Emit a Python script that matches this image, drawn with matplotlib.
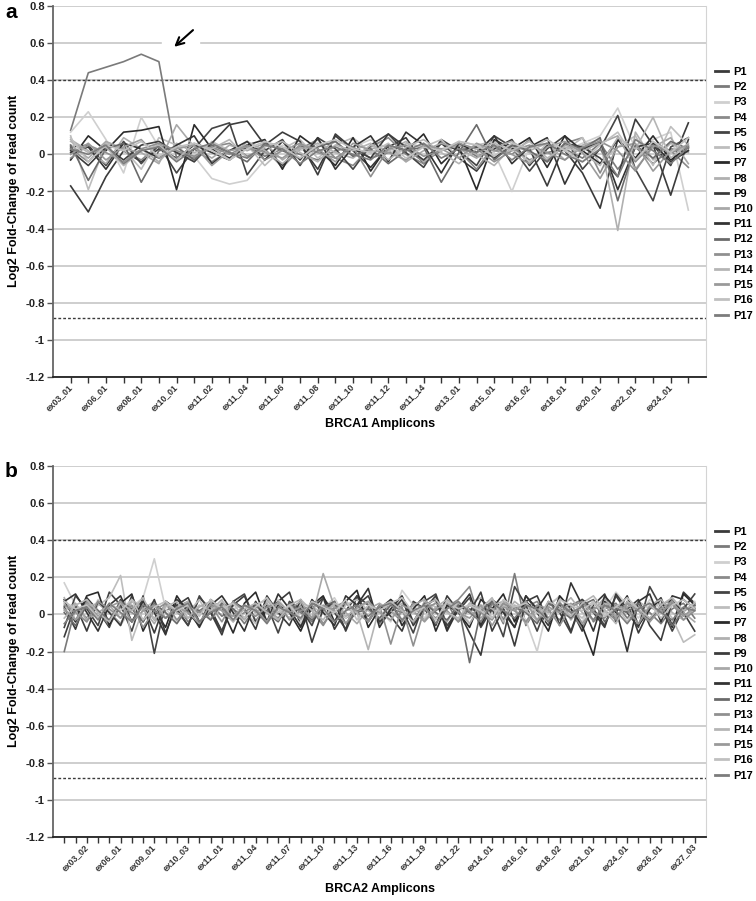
import matplotlib
matplotlib.use('Agg')
import matplotlib.pyplot as plt
from matplotlib.lines import Line2D
from matplotlib.patches import Rectangle

plt.rcParams['font.family'] = ['Liberation Sans', 'DejaVu Sans']
plt.rcParams['font.weight'] = 'bold'

# ---- data ----
patients = ['P%d' % i for i in range(1, 18)]
line_colors = ['#3a3a3a', '#7a7a7a', '#cfcfcf', '#8a8a8a', '#444444', '#bdbdbd',
               '#2a2a2a', '#b0b0b0', '#3c3c3c', '#a8a8a8', '#333333', '#6a6a6a',
               '#909090', '#b5b5b5', '#9a9a9a', '#c0c0c0', '#7c7c7c']

brca1_ticklabels = ['ex03_01', 'ex06_01', 'ex08_01', 'ex10_01', 'ex11_02', 'ex11_04',
                    'ex11_06', 'ex11_08', 'ex11_10', 'ex11_12', 'ex11_14', 'ex13_01',
                    'ex15_01', 'ex16_02', 'ex18_01', 'ex20_01', 'ex22_01', 'ex24_01']
brca2_ticklabels = ['ex03_02', 'ex06_01', 'ex09_01', 'ex10_03', 'ex11_01', 'ex11_04',
                    'ex11_07', 'ex11_10', 'ex11_13', 'ex11_16', 'ex11_19', 'ex11_22',
                    'ex14_01', 'ex16_01', 'ex18_02', 'ex21_01', 'ex24_01', 'ex26_01',
                    'ex27_03']

# BRCA1, log2 fold change per amplicon (36 amplicons)
a_p1 = [-0.17,-0.31,-0.12,0.02,-0.04,0.03,-0.02,0.05,0.01,-0.03,0.04,0.02,
        -0.06,0.05,-0.08,0.10,0.02,-0.07,0.04,0.09,-0.05,0.06,-0.02,-0.09,
        0.03,0.08,-0.06,0.05,0.02,-0.10,-0.29,0.08,-0.03,0.05,-0.06,0.17]
a_p2 = [0.13,0.44,0.47,0.50,0.54,0.50,-0.02,0.03,-0.04,0.02,0.05,-0.01,
        0.03,0.00,-0.03,0.02,0.04,-0.02,0.01,0.03,-0.04,0.02,0.05,-0.01,
        0.02,0.04,-0.03,0.01,0.03,-0.02,0.06,-0.08,0.04,-0.05,0.03,0.02]
a_p3 = [0.12,0.23,0.08,-0.10,0.20,0.04,0.02,-0.01,-0.13,-0.16,-0.14,-0.03,
        0.05,0.02,0.06,-0.02,0.04,0.08,0.03,-0.04,0.06,0.02,0.07,0.05,
        0.01,-0.20,0.04,0.08,0.02,0.06,0.10,0.25,0.03,0.08,0.12,-0.30]
a_p4 = [0.03,-0.04,0.06,0.02,-0.03,0.05,0.01,-0.02,0.04,0.06,-0.01,0.03,
        -0.07,0.03,0.08,-0.02,-0.06,0.04,0.09,0.00,-0.05,0.07,0.02,-0.08,
        0.05,0.00,0.08,-0.04,0.06,0.09,-0.10,0.09,-0.04,0.06,0.02,-0.07]
a_p5 = [0.04,0.05,-0.06,0.07,-0.05,0.05,-0.10,0.03,0.14,0.17,-0.11,0.02,
        0.08,-0.06,0.09,0.03,-0.08,0.05,0.11,0.01,-0.07,0.08,0.02,-0.06,
        0.10,0.04,-0.09,0.03,0.10,-0.08,0.03,0.21,-0.08,-0.25,0.04,0.09]
a_p6 = [0.10,-0.19,0.06,0.03,-0.08,0.09,0.05,-0.04,0.07,0.02,0.05,-0.06,
        0.03,0.08,-0.02,0.05,0.09,0.01,-0.03,0.06,0.04,0.08,-0.02,0.05,
        0.07,0.03,-0.04,0.06,0.02,0.09,-0.05,0.04,0.10,-0.06,0.15,0.05]
a_p7 = [-0.03,0.10,0.02,0.12,0.13,0.15,-0.19,0.16,0.03,-0.02,0.05,0.08,
        -0.08,0.10,0.03,-0.06,0.09,-0.09,0.05,0.02,0.11,-0.05,0.04,-0.19,
        0.08,0.03,0.09,-0.07,0.10,0.02,-0.05,0.08,-0.02,0.10,-0.03,0.04]
a_p8 = [0.08,0.02,-0.05,0.09,0.03,-0.04,0.06,0.01,0.04,-0.03,0.07,0.02,
        -0.05,0.03,0.06,0.01,-0.02,0.05,0.02,0.07,-0.04,0.03,0.05,0.00,
        -0.06,0.04,0.02,0.06,-0.03,0.05,0.08,-0.41,0.12,-0.03,0.06,0.01]
a_p9 = [0.02,-0.06,0.04,-0.03,0.05,0.07,0.01,-0.04,0.06,0.16,0.18,0.05,
        0.12,0.07,-0.11,0.11,0.03,-0.02,0.11,0.04,-0.03,0.06,0.02,0.04,
        -0.02,0.05,0.03,-0.17,0.06,0.04,-0.02,-0.12,0.19,0.05,-0.22,0.08]
a_p10 = [0.05,-0.02,0.07,0.03,0.01,-0.05,0.16,0.04,-0.02,0.05,0.02,0.06,
         -0.03,0.04,0.01,0.07,-0.01,0.03,0.05,-0.04,0.02,0.06,0.03,-0.02,
         0.04,0.07,0.01,-0.03,0.05,0.02,0.06,0.10,-0.08,0.04,0.09,-0.05]
a_p11 = [0.01,0.04,-0.08,0.06,0.03,-0.02,0.05,0.10,-0.05,0.02,0.07,-0.03,
         0.07,-0.03,0.09,-0.08,0.04,0.10,-0.04,0.12,0.05,-0.10,0.06,0.01,
         0.10,-0.05,0.04,0.09,-0.16,0.03,0.07,-0.19,0.04,0.06,-0.04,0.02]
a_p12 = [0.05,-0.14,0.03,0.06,-0.15,0.02,0.04,-0.03,0.05,0.01,-0.04,0.06,
         0.02,-0.02,0.04,0.07,-0.01,0.03,-0.05,0.02,0.04,-0.15,0.01,0.16,
         -0.03,0.05,0.02,-0.04,0.06,0.03,0.09,-0.25,0.05,-0.02,0.07,0.03]
a_p13 = [-0.02,0.05,0.01,-0.04,0.03,0.06,0.02,-0.01,0.04,0.00,0.05,-0.03,
         0.02,0.06,0.01,-0.02,0.04,-0.12,0.03,0.05,-0.01,0.02,0.06,0.03,
         -0.04,0.02,0.05,0.01,-0.03,0.04,0.07,0.02,-0.09,0.05,0.01,0.04]
a_p14 = [0.07,0.01,0.04,-0.06,0.02,0.05,-0.03,0.06,0.03,0.08,-0.02,0.04,
         0.07,0.01,-0.04,0.05,0.02,0.06,-0.03,0.04,0.08,0.01,-0.05,0.03,
         0.06,0.02,0.07,-0.02,0.04,0.01,-0.06,0.09,0.03,0.20,-0.02,0.06]
a_p15 = [0.00,0.06,-0.03,0.04,0.08,-0.02,0.03,0.05,-0.06,0.02,0.04,0.01,
         -0.02,0.05,0.03,-0.04,0.06,0.02,0.01,-0.03,0.05,0.03,-0.02,0.06,
         0.02,0.00,-0.05,0.04,0.07,0.01,-0.13,0.04,0.06,-0.09,0.02,0.05]
a_p16 = [0.09,-0.04,0.05,0.02,0.07,-0.01,0.04,0.06,0.02,-0.03,0.03,0.07,
         0.04,-0.02,0.05,0.08,0.03,0.01,0.06,-0.02,0.04,0.02,0.07,0.05,
         -0.01,0.06,0.03,0.08,0.02,-0.04,0.05,0.12,-0.03,0.07,0.01,0.09]
a_p17 = [0.03,0.00,0.05,-0.05,0.02,0.04,-0.04,0.03,0.06,0.01,-0.02,0.05,
         0.03,-0.05,0.02,0.04,0.00,-0.03,0.05,0.02,0.06,-0.02,0.03,0.01,
         0.05,-0.03,0.04,0.06,0.00,-0.04,0.03,-0.12,0.08,0.02,-0.05,0.04]

# BRCA2 (57 amplicons)
b_p1 = [0.04,-0.08,0.09,0.02,-0.07,0.08,-0.04,0.05,-0.10,0.07,
        0.02,-0.06,0.09,0.03,-0.09,0.05,0.10,-0.04,0.02,0.07,
        0.12,-0.06,0.03,0.09,-0.08,0.02,0.10,-0.04,0.05,-0.01,
        -0.09,0.07,0.03,-0.06,0.10,0.02,-0.10,-0.22,0.08,0.03,
        -0.07,0.10,0.02,-0.06,0.09,0.03,-0.09,0.05,0.11,-0.04,
        0.07,-0.10,0.03,0.09,-0.06,0.12,0.06]
b_p2 = [-0.20,0.04,-0.02,0.06,0.01,-0.05,0.03,0.07,-0.03,0.02,
        0.05,-0.04,0.02,0.06,-0.01,0.03,-0.05,0.04,0.02,-0.02,
        0.05,0.01,-0.04,0.03,0.06,-0.02,0.02,0.04,-0.05,0.03,
        0.01,0.05,-0.03,0.02,0.06,-0.04,0.03,0.01,0.07,-0.05,
        0.22,-0.06,0.04,0.02,-0.03,0.05,0.08,-0.04,0.03,0.06,
        -0.02,0.04,0.01,-0.05,0.03,0.06,-0.02]
b_p3 = [0.17,0.05,-0.03,0.08,0.02,-0.06,0.04,0.09,0.30,0.03,
        -0.04,0.06,0.02,-0.02,0.07,0.03,0.05,-0.03,0.04,0.08,
        0.01,-0.05,0.06,0.03,0.09,-0.02,0.04,0.06,0.02,-0.04,
        0.13,0.05,-0.02,0.07,0.03,0.06,-0.05,0.04,0.08,0.01,
        0.05,-0.03,-0.20,0.06,0.09,0.02,-0.04,0.07,0.03,0.12,
        0.05,-0.02,0.08,0.03,0.06,0.01,0.07]
b_p4 = [0.03,-0.04,0.07,0.02,-0.06,0.04,0.01,-0.03,0.05,-0.02,
        0.04,0.07,-0.05,0.02,0.05,-0.03,0.01,0.06,-0.04,0.03,
        -0.02,0.05,0.02,-0.06,0.04,0.07,0.01,-0.03,0.05,0.02,
        -0.04,0.06,0.03,-0.02,0.04,0.08,0.15,-0.05,0.02,0.06,
        -0.03,0.04,0.07,-0.02,0.05,0.01,-0.07,0.04,0.02,-0.03,
        0.06,0.02,-0.04,0.05,0.08,-0.01,0.03]
b_p5 = [-0.07,0.10,0.03,-0.06,0.12,0.05,-0.09,0.10,-0.21,0.07,
        0.03,-0.06,0.10,0.01,-0.09,0.07,0.11,-0.04,0.05,-0.10,
        0.07,0.03,-0.06,0.09,0.01,-0.08,0.10,0.05,-0.04,0.08,
        0.03,-0.10,0.07,0.11,-0.06,0.02,0.09,-0.07,0.03,-0.12,
        0.15,0.05,-0.09,0.07,0.01,-0.10,0.08,0.03,-0.06,0.10,
        0.01,-0.07,0.15,0.04,-0.09,0.03,0.11]
b_p6 = [0.06,0.02,-0.04,0.05,0.09,0.21,-0.14,0.03,0.07,-0.02,
        0.05,0.01,0.08,-0.03,0.04,0.06,0.02,-0.05,0.07,0.03,
        -0.02,0.06,0.04,0.01,-0.04,0.05,0.08,0.02,-0.03,0.06,
        0.03,-0.05,0.07,0.04,0.01,-0.03,0.06,0.09,-0.02,0.05,
        0.02,0.07,-0.04,0.04,0.10,0.03,-0.02,0.06,0.01,0.05,
        -0.04,0.07,0.03,0.06,-0.02,-0.15,-0.11]
b_p7 = [0.08,-0.04,0.10,0.12,-0.06,0.06,0.11,-0.09,0.03,-0.07,
        0.10,0.01,-0.06,0.08,0.03,-0.10,0.06,0.12,-0.04,0.05,
        0.01,-0.09,0.05,0.10,-0.04,0.07,0.13,-0.07,0.03,0.08,
        -0.06,0.03,0.10,-0.09,0.05,0.01,-0.07,0.08,0.03,0.11,
        -0.04,0.07,0.01,-0.09,0.10,0.03,-0.06,-0.22,0.07,0.01,
        0.10,-0.06,0.03,0.08,-0.07,0.11,0.05]
b_p8 = [0.09,-0.03,0.04,0.06,0.01,-0.05,0.07,0.02,-0.02,0.05,
        0.03,0.07,-0.04,0.02,0.06,0.01,-0.03,0.05,0.08,0.00,
        0.04,-0.03,0.06,0.02,0.05,-0.01,0.03,0.07,-0.04,0.02,
        0.06,0.01,-0.03,0.04,0.08,0.02,-0.05,0.05,0.03,-0.02,
        0.07,0.02,0.05,-0.04,0.03,0.09,0.01,-0.03,0.06,0.04,
        0.02,-0.05,0.05,0.08,0.01,-0.03,0.04]
b_p9 = [-0.12,0.05,-0.09,0.07,0.01,-0.06,0.10,-0.04,0.08,-0.10,
        0.05,0.09,-0.04,0.01,-0.11,0.07,0.03,-0.08,0.10,0.01,
        -0.06,0.08,-0.15,0.03,0.07,-0.09,0.05,0.10,-0.04,0.01,
        0.08,-0.06,0.03,0.10,-0.08,0.05,0.01,0.12,-0.09,0.03,
        -0.17,0.07,0.10,-0.04,0.05,-0.09,0.08,0.01,-0.07,0.11,
        0.03,0.08,-0.06,-0.14,0.07,0.01,-0.09]
b_p10 = [0.02,0.06,-0.03,0.01,0.05,-0.02,0.08,0.03,-0.05,0.06,
         0.01,-0.02,0.04,0.07,0.02,-0.04,0.05,0.01,0.06,-0.03,
         0.03,0.07,-0.02,0.22,0.04,0.01,-0.05,0.03,0.06,0.02,
         -0.03,0.05,0.08,0.01,-0.04,0.06,0.02,-0.02,0.05,0.07,
         0.03,-0.05,0.04,0.01,0.07,-0.03,0.05,0.02,0.09,-0.01,
         0.04,0.06,-0.03,0.02,0.05,0.01,-0.04]
b_p11 = [0.07,0.11,0.01,-0.09,0.05,0.10,-0.04,0.07,0.01,-0.11,
         0.08,0.03,-0.07,0.05,0.10,0.01,-0.09,0.07,-0.04,0.11,
         0.03,-0.07,0.08,0.01,-0.06,0.10,0.05,0.14,-0.07,0.03,
         0.10,-0.04,0.05,0.08,-0.09,0.03,0.11,-0.06,0.07,0.01,
         -0.07,0.10,0.03,0.12,-0.06,0.17,0.05,-0.09,0.10,0.03,
         -0.20,0.07,0.11,-0.04,0.10,0.08,0.03]
b_p12 = [0.01,-0.06,0.05,0.02,-0.03,0.07,0.03,-0.04,0.06,0.01,
         -0.05,0.04,0.02,-0.03,0.06,0.03,-0.02,0.05,0.01,-0.04,
         0.06,0.02,-0.03,0.04,0.07,-0.05,0.01,0.03,-0.02,0.05,
         0.02,-0.04,0.06,0.01,-0.03,0.05,-0.26,0.02,0.07,-0.03,
         0.04,0.01,-0.05,0.06,0.02,-0.02,0.05,0.08,-0.04,0.03,
         0.01,0.06,-0.03,0.04,-0.06,0.02,0.05]
b_p13 = [0.05,0.01,-0.04,0.07,0.03,-0.02,0.05,-0.07,0.02,0.06,
         -0.03,0.04,0.01,0.05,-0.04,0.07,0.02,-0.01,0.04,0.06,
         -0.03,0.02,0.05,-0.05,0.03,0.06,0.01,-0.04,0.05,-0.16,
         0.04,-0.17,0.03,0.06,0.02,-0.04,0.05,0.01,-0.03,0.06,
         0.02,-0.04,0.05,0.03,-0.06,0.04,0.07,0.01,-0.02,0.05,
         0.03,-0.05,0.04,0.01,0.06,-0.03,0.02]
b_p14 = [-0.02,0.05,0.08,0.01,-0.04,0.06,0.02,0.09,-0.03,0.04,
         0.07,-0.02,0.05,0.02,0.08,-0.04,0.03,0.06,0.01,-0.03,
         0.05,0.08,0.02,-0.03,0.06,0.03,0.01,-0.19,0.04,0.07,
         0.02,-0.04,0.05,0.08,0.01,-0.02,0.06,0.03,0.09,-0.04,
         0.05,0.02,-0.03,0.07,0.04,-0.01,0.06,0.10,0.02,-0.05,
         0.07,0.03,-0.02,0.05,0.09,0.02,0.06]
b_p15 = [0.03,-0.03,0.06,-0.01,0.04,0.07,-0.04,0.02,0.05,-0.02,
         0.04,0.01,-0.05,0.06,0.02,-0.01,0.05,0.03,-0.04,0.07,
         0.01,0.04,-0.02,0.05,0.02,-0.05,0.04,0.07,0.01,-0.03,
         0.05,0.02,-0.04,0.03,0.06,0.01,-0.02,0.05,-0.06,0.04,
         0.02,0.07,-0.03,0.04,0.01,0.06,-0.05,0.03,0.05,-0.02,
         0.06,0.02,-0.04,0.03,0.07,-0.01,0.04]
b_p16 = [0.07,0.03,0.05,-0.02,0.06,0.02,0.08,-0.03,0.04,0.07,
         0.02,0.05,-0.01,0.08,0.03,0.06,-0.02,0.04,0.09,0.01,
         0.05,-0.02,0.07,0.04,0.01,0.08,-0.03,0.05,0.02,0.06,
         0.09,0.01,0.04,-0.03,0.07,0.03,0.05,0.02,-0.02,0.08,
         0.04,0.06,0.01,-0.03,0.08,0.05,0.02,0.07,-0.01,0.04,
         0.09,0.03,0.06,-0.02,0.05,0.08,0.03]
b_p17 = [-0.05,0.02,0.04,-0.03,0.06,0.01,-0.04,0.05,0.02,-0.02,
         0.03,0.06,-0.04,0.01,0.04,-0.03,0.05,0.02,-0.05,0.04,
         0.01,-0.02,0.06,0.03,-0.04,0.02,0.05,-0.01,0.04,0.06,
         -0.03,0.02,0.05,-0.05,0.03,0.07,0.01,-0.04,0.06,0.02,
         -0.02,0.05,0.03,-0.04,0.06,0.01,0.04,-0.03,0.05,0.02,
         -0.05,0.03,0.06,0.01,-0.03,0.04,0.02]

brca1_series = [a_p1, a_p2, a_p3, a_p4, a_p5, a_p6, a_p7, a_p8, a_p9,
                a_p10, a_p11, a_p12, a_p13, a_p14, a_p15, a_p16, a_p17]
brca2_series = [b_p1, b_p2, b_p3, b_p4, b_p5, b_p6, b_p7, b_p8, b_p9,
                b_p10, b_p11, b_p12, b_p13, b_p14, b_p15, b_p16, b_p17]

dup_cutoff = 0.4
del_cutoff = -0.88
yticks = [-1.2, -1.0, -0.8, -0.6, -0.4, -0.2, 0.0, 0.2, 0.4, 0.6, 0.8]
ytick_text = ['-1.2', '-1', '-0.8', '-0.6', '-0.4', '-0.2', '0', '0.2', '0.4', '0.6', '0.8']

W, H = 756, 901


def draw_panel(ax, series, ticklabels, first_lab, step):
    n = len(series[0])
    x = list(range(n))
    ax.set_xlim(-1, n)
    ax.set_ylim(-1.2, 0.8)
    ax.set_axisbelow(True)
    ax.yaxis.grid(True, color='#c6c6c6', lw=1.2)
    for s, c in zip(series, line_colors):
        ax.plot(x, s, color=c, lw=1.2, zorder=2)
    for yv in (dup_cutoff, del_cutoff):
        ax.axhline(yv, color='#3a3a3a', lw=1.0, ls=(0, (2, 1.5)), zorder=1.5)

    labs = [''] * n
    for k, t in enumerate(ticklabels):
        labs[first_lab + k * step] = t
    ax.set_xticks(x)
    ax.set_xticklabels(labs)
    for t in ax.get_xticklabels():
        t.set_rotation(45)
        t.set_ha('right')
        t.set_va('center')
        t.set_rotation_mode('anchor')
    ax.set_yticks(yticks)
    ax.set_yticklabels(ytick_text)
    ax.tick_params(axis='x', direction='out', length=4, width=1, color='#333',
                   labelsize=6.2, pad=2, labelcolor='#333')
    ax.tick_params(axis='y', direction='out', length=4, width=1, color='#555',
                   labelsize=8, pad=2, labelcolor='#222')
    ax.spines['top'].set_visible(False)
    ax.spines['right'].set_color('#d4d4d4')
    ax.spines['right'].set_linewidth(0.8)
    ax.spines['left'].set_color('#666')
    ax.spines['left'].set_linewidth(1.3)
    ax.spines['bottom'].set_color('#222')
    ax.spines['bottom'].set_linewidth(1.3)


fig = plt.figure(figsize=(W / 100, H / 100), dpi=100)

ax_a = fig.add_axes([53 / W, 1 - 377 / H, 653 / W, 371 / H])
draw_panel(ax_a, brca1_series, brca1_ticklabels, 0, 2)
ax_b = fig.add_axes([53 / W, 1 - 837 / H, 653 / W, 371 / H])
draw_panel(ax_b, brca2_series, brca2_ticklabels, 2, 3)

# arrow pointing at the duplicated segment (gap cut into the 0.6 gridline)
ax_a.add_patch(Rectangle((5.2, 0.58), 2.1, 0.04, color='white', zorder=1))
ax_a.annotate('', xy=(5.75, 0.57), xytext=(7.05, 0.68),
              arrowprops=dict(arrowstyle='->', color='black', lw=1.5, mutation_scale=14))

handles = [Line2D([], [], color=c, lw=2) for c in line_colors]
for top in (67, 527):
    fig.legend(handles, patients, loc='upper left', bbox_to_anchor=(715 / W, 1 - top / H),
               frameon=False, prop={'weight': 'bold', 'size': 8}, labelspacing=0.47,
               handlelength=1.2, handletextpad=0.4, borderpad=0, borderaxespad=0)

for yc in (191, 651):
    fig.text(14 / W, 1 - yc / H, 'Log2 Fold-Change of read count', rotation=90,
             ha='center', va='center', fontsize=9, weight='bold')
fig.text(380 / W, 1 - 424 / H, 'BRCA1 Amplicons', ha='center', va='center',
         fontsize=9, weight='bold')
fig.text(380 / W, 1 - 889 / H, 'BRCA2 Amplicons', ha='center', va='center',
         fontsize=9, weight='bold')
fig.text(5 / W, 1 - 12 / H, 'a', ha='left', va='center', fontsize=15, weight='bold')
fig.text(5 / W, 1 - 471 / H, 'b', ha='left', va='center', fontsize=15, weight='bold')

fig.savefig('out.png', dpi=100)
